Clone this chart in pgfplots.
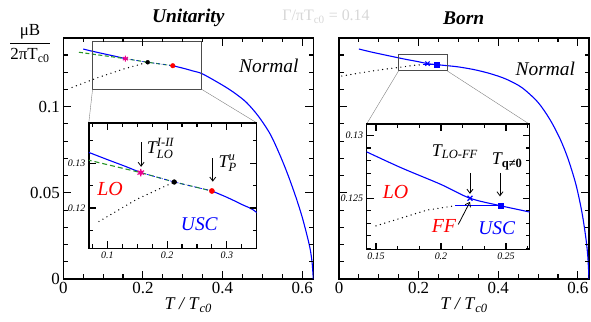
\documentclass[border=0pt]{standalone}
\usepackage{amsmath}
\usepackage{fontspec}
\setmainfont{Liberation Serif}
\usepackage{pgfplots}
\pgfplotsset{compat=1.18}
\usetikzlibrary{arrows.meta}

\definecolor{pgreen}{RGB}{40,150,40}
\definecolor{tgray}{RGB}{215,215,215}

\tikzset{
 dots/.style={black, line width=1.4bp, line cap=round, dash pattern=on 0bp off 4.6bp},
 arr/.style={-{Straight Barb[length=4bp,width=6bp]}, line width=0.8bp, black},
 tkl/.style={black, line width=1.1bp},
}
\pgfplotsset{
 mainax/.style={scale only axis, width=250bp, height=241.2bp,
   xmin=0, xmax=0.628, ymin=0, ymax=0.14,
   axis line style={line width=1.5bp},
   every tick/.style={black, line width=1.1bp},
   major tick length=8bp, minor tick length=4.5bp,
   xtick={0,0.2,0.4,0.6}, minor x tick num=3, ytick={0,0.05,0.1}, minor y tick num=4,
   scaled ticks=false,
   tick label style={font=\fontsize{17}{17}\selectfont},
   xticklabels={0,0.2,0.4,0.6},
   xlabel={\textit{T / T}$_{\text{\itshape c0}}$},
   xlabel style={font=\fontsize{18}{18}\selectfont, yshift=3bp},
 },
 inax/.style={scale only axis, axis background/.style={fill=white},
   axis line style={line width=1.5bp},
   every tick/.style={black, line width=1bp},
   major tick length=7bp, minor tick length=4bp,
   scaled ticks=false,
   tick label style={font=\fontsize{10}{10}\selectfont\itshape},
 },
}
% tick drawing helpers (x-ticks bottom/top, y-ticks left/right)
\newcommand{\xticksat}[4]{% list, ymin, ymax, length
  \pgfplotsinvokeforeach{#1}{\draw[tkl] (axis cs:##1,#2) -- ([yshift=#4]axis cs:##1,#2); \draw[tkl] (axis cs:##1,#3) -- ([yshift=-#4]axis cs:##1,#3);}}
\newcommand{\yticksat}[4]{% list, xmin, xmax, length
  \pgfplotsinvokeforeach{#1}{\draw[tkl] (axis cs:#2,##1) -- ([xshift=#4]axis cs:#2,##1); \draw[tkl] (axis cs:#3,##1) -- ([xshift=-#4]axis cs:#3,##1);}}

\begin{document}
\begin{tikzpicture}
\useasboundingbox (0,0) rectangle (591bp,322bp);

% ---------------- Left main (Unitarity)
\begin{axis}[mainax, at={(63.3bp,43bp)}, anchor=south west, yticklabels={0,0.05,0.1}]
\addplot[blue, line width=1.1bp] coordinates {(0.050,0.1335)(0.069,0.1324)(0.10,0.1308)(0.13,0.1293)(0.156,0.1279)};
\addplot[pgreen, line width=1.1bp, dash pattern=on 4bp off 2.5bp] coordinates {(0.0394,0.1316)(0.156,0.1279)(0.212,0.1258)(0.275,0.1238)};
\addplot[blue, line width=0.5bp, dash pattern=on 2bp off 1.5bp on 0.5bp off 1.5bp] coordinates {(0.156,0.1279)(0.212,0.1258)(0.275,0.1238)};
\addplot[blue, line width=1.1bp, smooth] coordinates {(0.275,0.1238)(0.30,0.1224)(0.325,0.1208)(0.35,0.1190)(0.40,0.1125)(0.43,0.1080)(0.46,0.1025)(0.49,0.0945)(0.52,0.0840)(0.545,0.0715)(0.565,0.0600)(0.585,0.0470)(0.60,0.0360)(0.612,0.0255)(0.620,0.0175)(0.625,0.0095)(0.628,0.0)};
\addplot[only marks, mark=asterisk, magenta, mark size=3bp, line width=1bp] coordinates {(0.156,0.1279)};
\addplot[only marks, mark=*, magenta, mark size=1.6bp] coordinates {(0.156,0.1279)};
\addplot[only marks, mark=*, black, mark size=2bp] coordinates {(0.212,0.1258)};
\addplot[only marks, mark=*, red, mark size=2.3bp] coordinates {(0.275,0.1238)};
\addplot[dots] coordinates {(0.022,0.1112)(0.086,0.1168)(0.15,0.1218)(0.212,0.1258)};
\draw[black!70, line width=0.8bp] (axis cs:0.0735,0.1101) rectangle (axis cs:0.3475,0.1377);
\coordinate (Lbl) at (axis cs:0.0735,0.1101);
\coordinate (Lbr) at (axis cs:0.3475,0.1101);
\node[font=\fontsize{19.5}{20}\selectfont\itshape] at (axis cs:0.5164,0.1236) {Normal};
\xticksat{0.05,0.1,0.15,0.25,0.3,0.35,0.45,0.5,0.55}{0}{0.14}{4.5bp}
\xticksat{0.2,0.4,0.6}{0}{0.14}{8bp}
\yticksat{0.01,0.02,0.03,0.04,0.06,0.07,0.08,0.09,0.11,0.12,0.13}{0}{0.628}{4.5bp}
\yticksat{0.05,0.1}{0}{0.628}{8bp}
\end{axis}

% ---------------- Right main (Born)
\begin{axis}[mainax, at={(339bp,43bp)}, anchor=south west, yticklabels={}]
\addplot[dots] coordinates {(0.007,0.1178)(0.05,0.1195)(0.10,0.1213)(0.15,0.1228)(0.189,0.12405)(0.2108,0.1244)};
\addplot[blue, line width=1.1bp, smooth] coordinates {(0.050,0.1335)(0.08,0.1318)(0.11,0.1303)(0.1427,0.1287)(0.17,0.1274)(0.20,0.1261)(0.2223,0.1250)(0.2459,0.1244)(0.2681,0.1239)(0.30,0.1231)(0.34,0.1215)(0.38,0.1192)(0.42,0.1160)(0.46,0.1110)(0.50,0.1025)(0.53,0.0925)(0.555,0.0815)(0.575,0.0700)(0.595,0.0550)(0.61,0.0390)(0.62,0.0240)(0.625,0.0130)(0.628,0)};
\addplot[blue, line width=1.1bp] coordinates {(0.2108,0.1244)(0.2459,0.1244)};
\addplot[only marks, mark=x, blue, mark size=3bp, line width=1.2bp] coordinates {(0.2223,0.1250)};
\addplot[only marks, mark=square*, blue, mark size=2.2bp] coordinates {(0.2459,0.1244)};
\draw[black!70, line width=0.8bp] (axis cs:0.1499,0.1209) rectangle (axis cs:0.2711,0.1306);
\coordinate (Rbl) at (axis cs:0.1499,0.1209);
\coordinate (Rbr) at (axis cs:0.2711,0.1209);
\node[font=\fontsize{19.5}{20}\selectfont\itshape] at (axis cs:0.5185,0.1222) {Normal};
\xticksat{0.05,0.1,0.15,0.25,0.3,0.35,0.45,0.5,0.55}{0}{0.14}{4.5bp}
\xticksat{0.2,0.4,0.6}{0}{0.14}{8bp}
\yticksat{0.01,0.02,0.03,0.04,0.06,0.07,0.08,0.09,0.11,0.12,0.13}{0}{0.628}{4.5bp}
\yticksat{0.05,0.1}{0}{0.628}{8bp}
\end{axis}

% connecting lines
\draw[gray, line width=0.4bp] (Lbl) -- (88.8bp,199.2bp);
\draw[gray, line width=0.4bp] (Lbr) -- (256.7bp,199.2bp);
\draw[gray, line width=0.4bp] (Rbl) -- (366.5bp,197.8bp);
\draw[gray, line width=0.4bp] (Rbr) -- (529.5bp,197.8bp);

% ---------------- Left inset
\begin{axis}[inax, at={(88.8bp,73.6bp)}, anchor=south west, width=167.9bp, height=125.6bp,
  xmin=0.069, xmax=0.350, ymin=0.111, ymax=0.139,
  xtick={0.1,0.2,0.3}, xticklabels={0.1,0.2,0.3}, minor x tick num=3,
  ytick={0.12,0.13}, yticklabels={0.12,0.13}, minor y tick num=1]
\addplot[dots] coordinates {(0.086,0.1170)(0.15,0.1220)(0.212,0.1258)};
\addplot[blue, line width=1.1bp] coordinates {(0.050,0.1335)(0.069,0.1324)(0.10,0.1308)(0.13,0.1293)(0.156,0.1279)};
\addplot[pgreen, line width=1.1bp, dash pattern=on 5bp off 3bp] coordinates {(0.0394,0.1316)(0.156,0.1279)(0.212,0.1258)(0.275,0.1238)};
\addplot[blue, line width=0.6bp, dash pattern=on 2.5bp off 1.5bp on 0.6bp off 1.5bp] coordinates {(0.156,0.1279)(0.212,0.1258)(0.275,0.1238)};
\addplot[blue, line width=1.1bp, smooth] coordinates {(0.275,0.1238)(0.30,0.1224)(0.325,0.1208)(0.35,0.1190)(0.40,0.1125)};
\addplot[only marks, mark=asterisk, magenta, mark size=3.8bp, line width=1.1bp] coordinates {(0.156,0.1279)};
\addplot[only marks, mark=*, magenta, mark size=2bp] coordinates {(0.156,0.1279)};
\addplot[only marks, mark=*, black, mark size=2.4bp] coordinates {(0.212,0.1258)};
\addplot[only marks, mark=*, red, mark size=2.6bp] coordinates {(0.275,0.1238)};
\draw[arr] (axis cs:0.1565,0.13464) -- (axis cs:0.1565,0.12918);
\draw[arr] (axis cs:0.2765,0.1311) -- (axis cs:0.2765,0.12587);
\node[anchor=base west, inner sep=0pt, font=\fontsize{18}{18}\selectfont] at (axis cs:0.166,0.1321) {$\text{\itshape T}_{\text{\itshape LO}}^{\text{\itshape I-II}}$};
\node[anchor=base west, inner sep=0pt, font=\fontsize{18}{18}\selectfont] at (axis cs:0.2859,0.1291) {$\text{\itshape T}_{\text{\itshape P}}^{\text{\itshape u}}$};
\node[red, font=\fontsize{20}{20}\selectfont\itshape] at (axis cs:0.1047,0.1243) {LO};
\node[blue, font=\fontsize{19.5}{20}\selectfont\itshape] at (axis cs:0.254,0.1163) {USC};
\xticksat{0.075,0.125,0.15,0.175,0.225,0.25,0.275,0.325}{0.111}{0.139}{4bp}
\xticksat{0.1,0.2,0.3}{0.111}{0.139}{7bp}
\yticksat{0.115,0.125,0.135}{0.069}{0.350}{4bp}
\yticksat{0.12,0.13}{0.069}{0.350}{7bp}
\end{axis}

% ---------------- Right inset
\begin{axis}[inax, at={(366.5bp,72.3bp)}, anchor=south west, width=163bp, height=125.5bp,
  xmin=0.1427, xmax=0.2681, ymin=0.1209, ymax=0.1309,
  xtick={0.15,0.2,0.25}, xticklabels={0.15,0.2,0.25}, minor x tick num=2,
  ytick={0.125,0.13}, yticklabels={0.125,0.13}, minor y tick num=4]
\addplot[dots] coordinates {(0.15,0.1228)(0.189,0.12405)(0.2108,0.1244)};
\addplot[blue, line width=1.1bp, smooth] coordinates {(0.11,0.1303)(0.1427,0.1287)(0.17,0.1274)(0.20,0.1261)(0.2223,0.1250)(0.2459,0.1244)(0.2681,0.1239)(0.30,0.1231)};
\addplot[blue, line width=1.1bp] coordinates {(0.2108,0.1244)(0.2459,0.1244)};
\addplot[only marks, mark=x, blue, mark size=3.5bp, line width=1.2bp] coordinates {(0.2223,0.1250)};
\addplot[only marks, mark=square*, blue, mark size=2.5bp] coordinates {(0.2459,0.1244)};
\draw[arr] (axis cs:0.2223,0.12703) -- (axis cs:0.2223,0.12535);
\draw[arr] (axis cs:0.2454,0.12703) -- (axis cs:0.2454,0.12515);
\draw[arr] (axis cs:0.2133,0.12291) -- (axis cs:0.2223,0.12471);
\node[anchor=base west, inner sep=0pt, font=\fontsize{18}{18}\selectfont] at (axis cs:0.1928,0.12834) {$\text{\itshape T}_{\text{\itshape LO-FF}}$};
\node[anchor=base west, inner sep=0pt, font=\fontsize{18}{18}\selectfont] at (axis cs:0.239,0.12769) {$\text{\itshape T}_{\text{\bfseries q≠0}}$};
\node[red, font=\fontsize{20}{20}\selectfont\itshape] at (axis cs:0.165,0.1255) {LO};
\node[red, font=\fontsize{20}{20}\selectfont\itshape] at (axis cs:0.2023,0.12276) {FF};
\node[blue, font=\fontsize{19.5}{20}\selectfont\itshape] at (axis cs:0.2428,0.1226) {USC};
\xticksat{0.16667,0.18333,0.21667,0.23333,0.26667}{0.1209}{0.1309}{4bp}
\xticksat{0.15,0.2,0.25}{0.1209}{0.1309}{7bp}
\yticksat{0.121,0.122,0.123,0.124,0.126,0.127,0.128,0.129}{0.1427}{0.2681}{4bp}
\yticksat{0.125,0.13}{0.1427}{0.2681}{7bp}
\end{axis}

% titles and labels
\node[font=\fontsize{19.5}{20}\selectfont\bfseries\itshape] at (188.3bp,304bp) {Unitarity};
\node[font=\fontsize{19.5}{20}\selectfont\bfseries\itshape] at (463.7bp,304bp) {Born};
\node[font=\fontsize{16}{16}\selectfont, text=tgray] at (326bp,305bp) {Γ/πT$_{\text{c0}}$ = 0.14};
\node[font=\fontsize{17}{17}\selectfont] at (30bp,278.5bp) {$\dfrac{\text{μB}}{\text{2πT}_{\text{c0}}}$};
\end{tikzpicture}
\end{document}
